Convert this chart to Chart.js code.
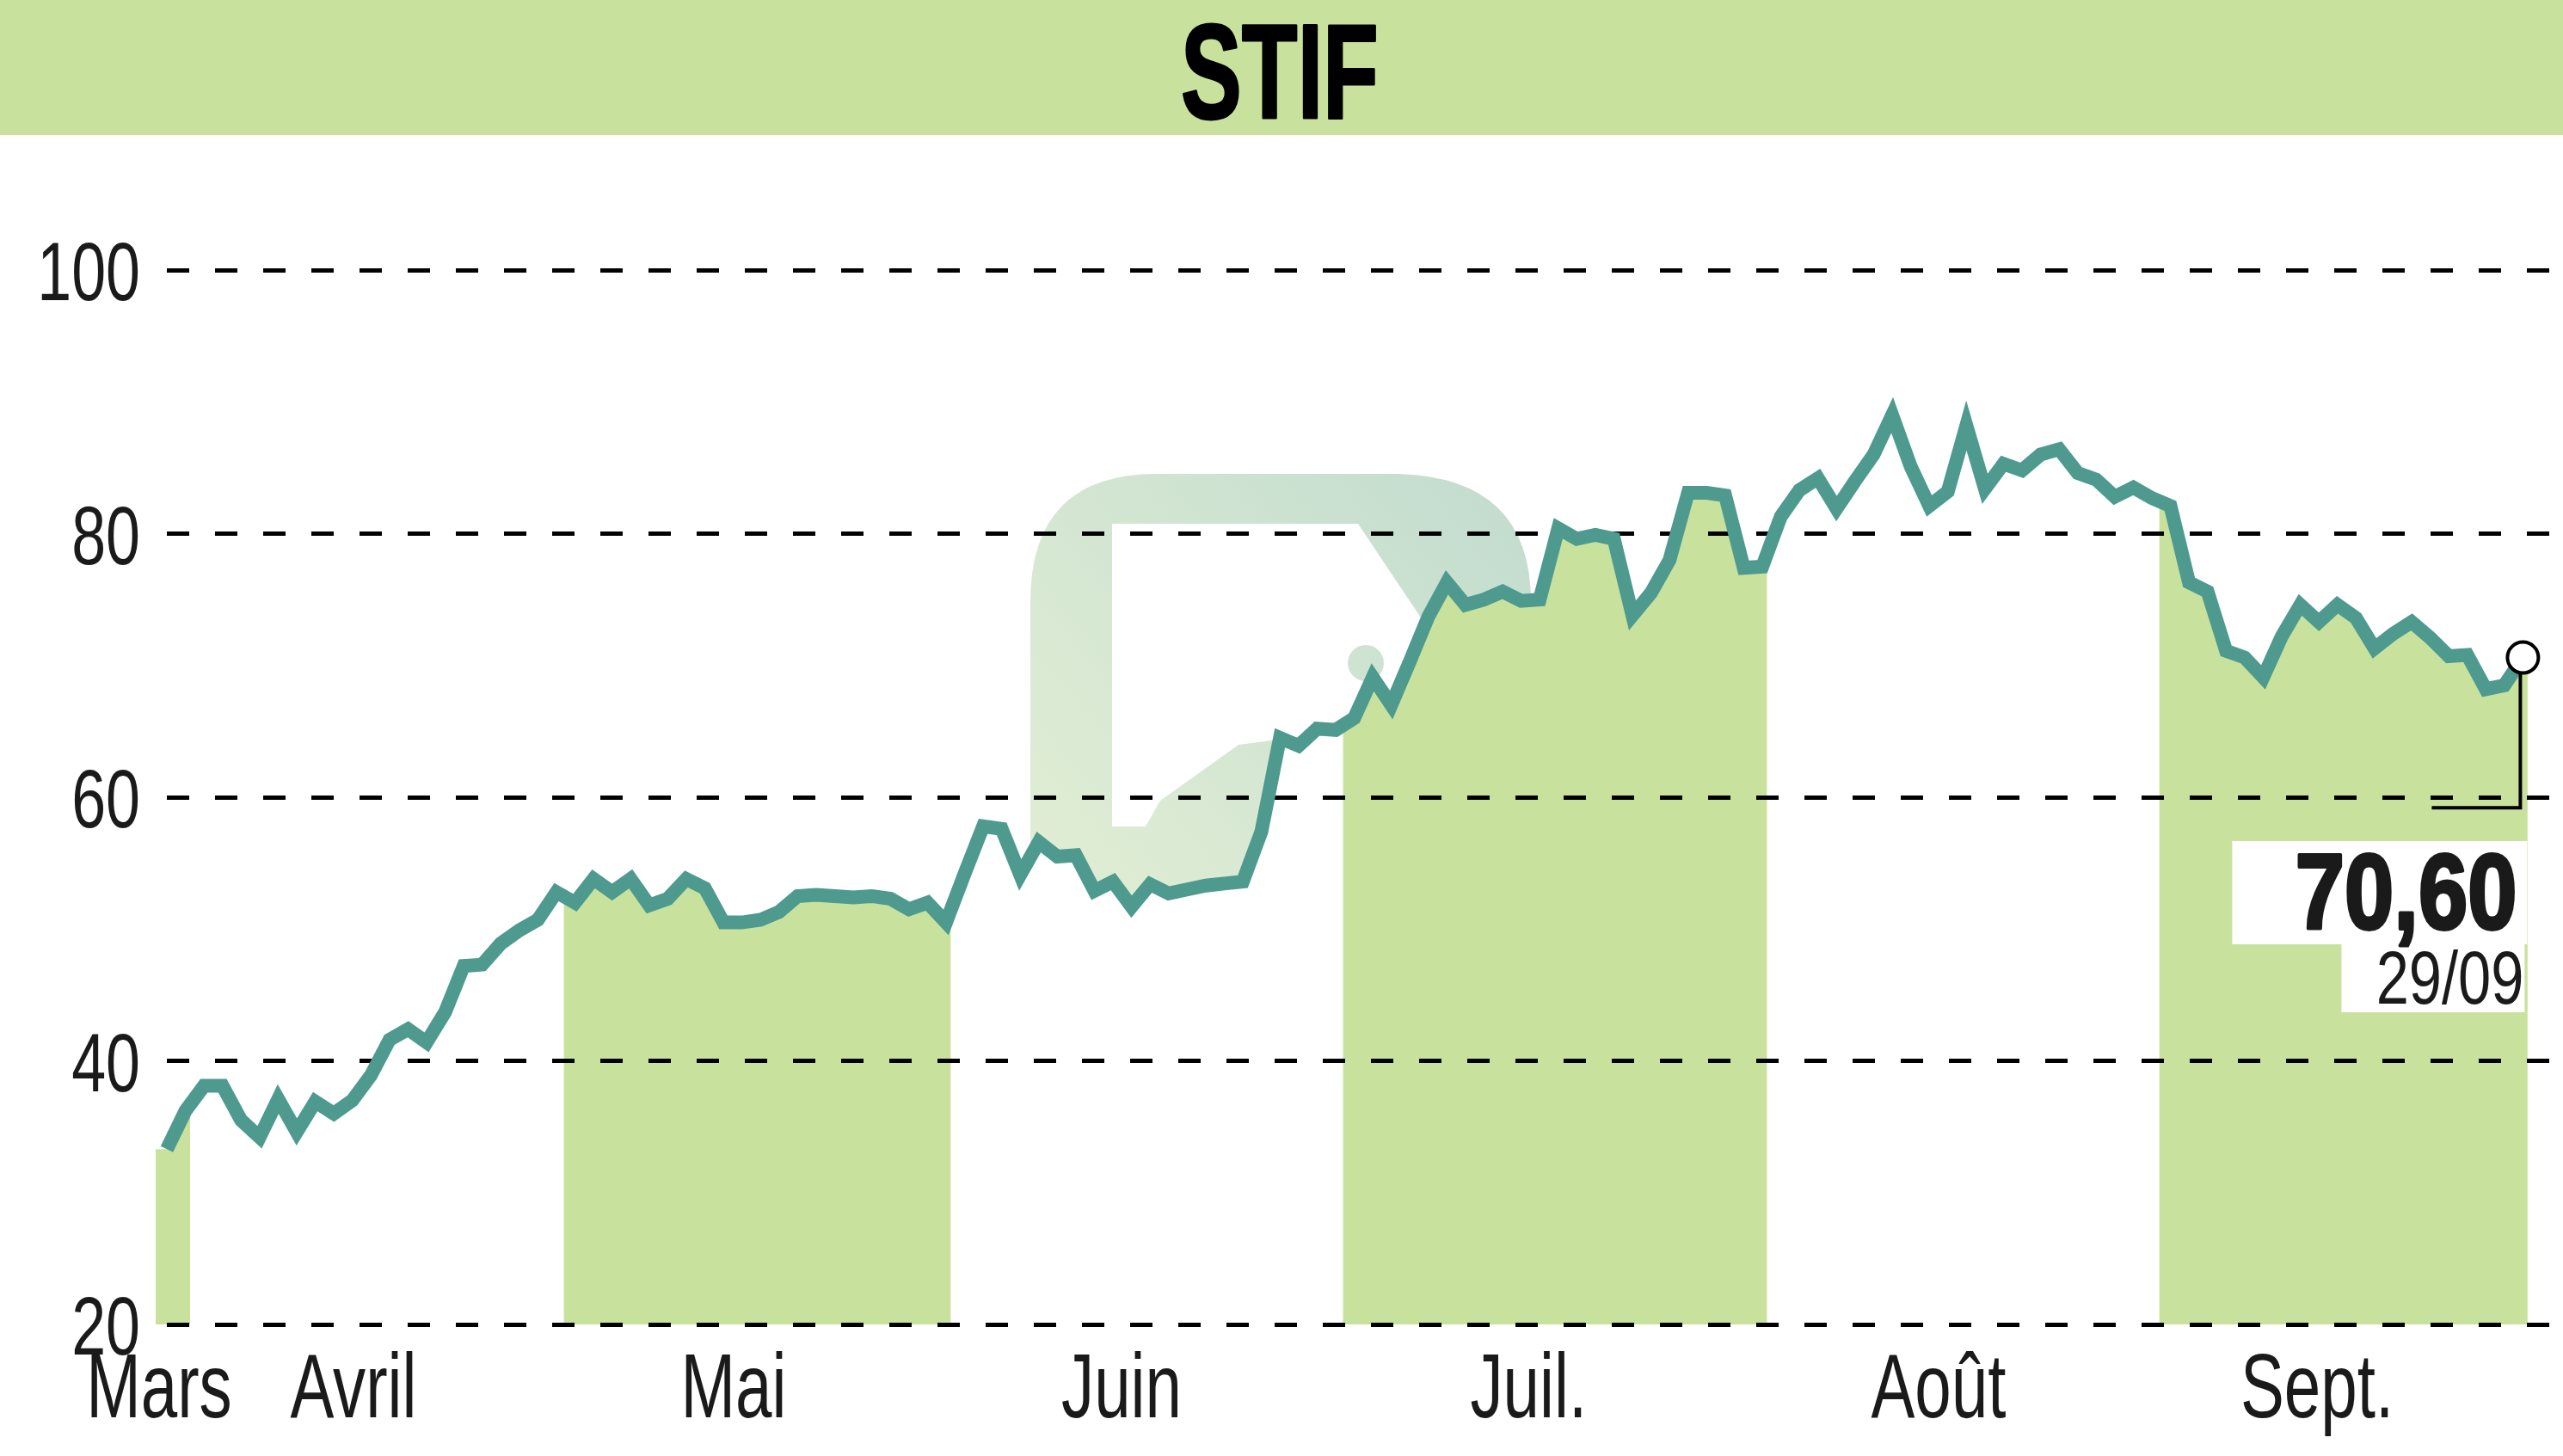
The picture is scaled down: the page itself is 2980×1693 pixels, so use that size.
<!DOCTYPE html>
<html><head><meta charset="utf-8">
<script src="https://cdn.jsdelivr.net/npm/chart.js@4.4.0/dist/chart.umd.min.js"></script>
<style>html,body{margin:0;padding:0;background:#fff}canvas{display:block}</style>
</head><body>
<canvas id="c" width="2980" height="1693"></canvas>
<script>
const chartTitle = "STIF";
const monthLabels = ["Mars","Avril","Mai","Juin","Juil.","Août","Sept."];
const monthStart = [0, 2, 22, 43, 64, 87, 108];
const monthLabelPos = [-0.42, 10.06, 30.55, 51.46, 73.4, 95.5, 115.9];
const shadedMonths = [0, 2, 4, 6];
const yTicks = [20, 40, 60, 80, 100];
const prices = [
  33.3, 36.2, 38.1, 38.1, 35.5, 34.2, 37.1, 34.6, 36.9, 36.0,
  37.0, 38.9, 41.6, 42.4, 41.4, 43.7, 47.2, 47.3, 48.9, 49.9,
  50.7, 52.8, 52.0, 53.8, 52.8, 53.8, 51.8, 52.3, 53.8, 53.1,
  50.5, 50.5, 50.7, 51.3, 52.5, 52.6, 52.5, 52.4, 52.5, 52.3,
  51.5, 52.0, 50.5, 54.2, 57.8, 57.6, 54.1, 56.6, 55.5, 55.6,
  52.9, 53.6, 51.7, 53.4, 52.7, 53.0, 53.3, 53.45, 53.6, 57.4,
  64.5, 63.9, 65.2, 65.1, 66.0, 69.1, 67.0, 70.3, 73.7, 76.3,
  74.6, 75.0, 75.6, 74.9, 75.0, 80.4, 79.6, 79.9, 79.6, 73.8,
  75.5, 78.0, 83.1, 83.1, 82.9, 77.4, 77.5, 81.3, 83.3, 84.2,
  81.9, 84.0, 86.0, 89.0, 85.1, 82.1, 83.2, 88.2, 83.4, 85.3,
  84.8, 86.0, 86.4, 84.6, 84.1, 82.8, 83.5, 82.7, 82.1, 76.3,
  75.6, 71.1, 70.6, 69.1, 72.2, 74.6, 73.3, 74.6, 73.6, 71.3,
  72.4, 73.3, 72.1, 70.7, 70.8, 68.2, 68.5, 70.6
];
const lastValueLabel = "70,60";
const lastDateLabel = "29/09";
const connectorValue = 59.2;

const GREEN = '#c8e29d';
const LINE = '#4e9a8f';
const TEXT = '#1a1a1a';

function drawText(ctx, text, x, y, font, sx, align, color, stroke) {
  ctx.save();
  ctx.font = font;
  ctx.fillStyle = color || TEXT;
  ctx.textBaseline = 'alphabetic';
  ctx.textAlign = align;
  ctx.translate(x, y);
  ctx.scale(sx, 1);
  ctx.fillText(text, 0, 0);
  if (stroke) {
    ctx.strokeStyle = color || TEXT;
    ctx.lineWidth = stroke;
    ctx.lineJoin = 'round';
    ctx.strokeText(text, 0, 0);
  }
  ctx.restore();
}

function underLine(ctx, pts, bottom) {
  const first = pts[0], last = pts[pts.length - 1];
  ctx.beginPath();
  ctx.moveTo(first.x - 100, bottom);
  ctx.lineTo(first.x - 100, first.y);
  pts.forEach(p => ctx.lineTo(p.x, p.y));
  ctx.lineTo(last.x + 100, last.y);
  ctx.lineTo(last.x + 100, bottom);
  ctx.closePath();
}

const decor = {
  id: 'decor',
  beforeDraw(chart) {
    const ctx = chart.ctx;
    const xs = chart.scales.x, ys = chart.scales.y;
    const pts = chart.getDatasetMeta(0).data;
    const bottom = ys.getPixelForValue(yTicks[0]);
    ctx.save();
    ctx.fillStyle = '#fff';
    ctx.fillRect(0, 0, chart.width, chart.height);
    // title band
    ctx.fillStyle = GREEN;
    ctx.fillRect(0, 0, chart.width, 157);
    // watermark (faint logo), visible only above the price line
    const g = ctx.createLinearGradient(1780, 560, 1200, 1050);
    g.addColorStop(0, '#c2dccf');
    g.addColorStop(1, '#e2eed4');
    ctx.fillStyle = g;
    ctx.beginPath();
    ctx.moveTo(1198, 1200);
    ctx.lineTo(1198, 700);
    ctx.quadraticCurveTo(1198, 551, 1345, 551);
    ctx.lineTo(1627, 551);
    ctx.quadraticCurveTo(1780, 556, 1780, 700);
    ctx.lineTo(1780, 1200);
    ctx.closePath();
    ctx.moveTo(1293, 609);
    ctx.lineTo(1579, 609);
    ctx.lineTo(1700, 790);
    ctx.lineTo(1560, 850);
    ctx.lineTo(1440, 866);
    ctx.lineTo(1349, 931);
    ctx.lineTo(1332, 961);
    ctx.lineTo(1293, 961);
    ctx.closePath();
    ctx.fill('evenodd');
    ctx.beginPath();
    ctx.arc(1588, 771, 21, 0, Math.PI * 2);
    ctx.fill();
    // area below the line is plain white
    ctx.fillStyle = '#fff';
    underLine(ctx, pts, bottom);
    ctx.fill();
    // shaded month bands under the line
    ctx.fillStyle = GREEN;
    shadedMonths.forEach(m => {
      const a = monthStart[m];
      const b = m + 1 < monthStart.length ? monthStart[m + 1] - 1 : prices.length - 1;
      const x0 = xs.getPixelForValue(a - 0.6), x1 = xs.getPixelForValue(b + 0.25);
      ctx.save();
      ctx.beginPath();
      ctx.rect(x0, 0, x1 - x0, bottom);
      ctx.clip();
      underLine(ctx, pts, bottom);
      ctx.fill();
      ctx.restore();
    });
    ctx.restore();
  },
  afterDraw(chart) {
    const ctx = chart.ctx;
    const xs = chart.scales.x, ys = chart.scales.y;
    const pts = chart.getDatasetMeta(0).data;
    const last = pts[pts.length - 1];
    // title
    drawText(ctx, chartTitle, chart.width / 2 - 2, 137, 'bold 156px "Liberation Sans"', 0.68, 'center', '#000', 3);
    // y tick labels
    yTicks.forEach(v => {
      drawText(ctx, String(v), 163, ys.getPixelForValue(v) + 35, '97px "Liberation Sans"', 0.74, 'right', TEXT);
    });
    // month labels
    monthLabels.forEach((t, i) => {
      drawText(ctx, t, xs.getPixelForValue(monthLabelPos[i]), 1648, '106px "Liberation Sans"', 0.72, 'center', TEXT);
    });
    // connector from last point
    const cy = ys.getPixelForValue(connectorValue);
    ctx.save();
    ctx.strokeStyle = '#000';
    ctx.lineWidth = 4;
    ctx.beginPath();
    ctx.moveTo(last.x - 3, last.y + 19);
    ctx.lineTo(last.x - 3, cy);
    ctx.lineTo(last.x - 106, cy);
    ctx.stroke();
    // label boxes
    ctx.fillStyle = '#fff';
    ctx.fillRect(last.x - 338, 978, 343, 120);
    ctx.fillRect(last.x - 211, 1097, 213, 80);
    ctx.restore();
    drawText(ctx, lastValueLabel, last.x - 7, 1080, 'bold 124px "Liberation Sans"', 0.83, 'right', TEXT, 4);
    drawText(ctx, lastDateLabel, last.x + 1, 1167, '88px "Liberation Sans"', 0.78, 'right', TEXT);
  }
};

new Chart(document.getElementById('c'), {
  type: 'line',
  data: {
    datasets: [{
      data: prices.map((v, i) => ({ x: i, y: v })),
      borderColor: LINE,
      borderWidth: 16,
      tension: 0,
      fill: false,
      clip: false,
      borderJoinStyle: 'miter',
      pointRadius: prices.map((v, i) => i === prices.length - 1 ? 18 : 0),
      pointBackgroundColor: '#fff',
      pointBorderColor: '#000',
      pointBorderWidth: 4,
      pointHoverRadius: 0
    }]
  },
  options: {
    responsive: false,
    animation: false,
    devicePixelRatio: 1,
    events: [],
    layout: { autoPadding: false, padding: { left: 194, right: 0, top: 314, bottom: 153 } },
    plugins: { legend: { display: false }, tooltip: { enabled: false }, title: { display: false } },
    scales: {
      x: { type: 'linear', min: 0, max: 129.16, display: false },
      y: {
        min: 20, max: 100,
        afterBuildTicks: s => { s.ticks = yTicks.map(v => ({ value: v })); },
        ticks: { display: false },
        grid: { color: '#000', lineWidth: 5, drawTicks: false, tickLength: 0 },
        border: { display: false, dash: [26, 30] }
      }
    }
  },
  plugins: [decor]
});
</script>
</body></html>
